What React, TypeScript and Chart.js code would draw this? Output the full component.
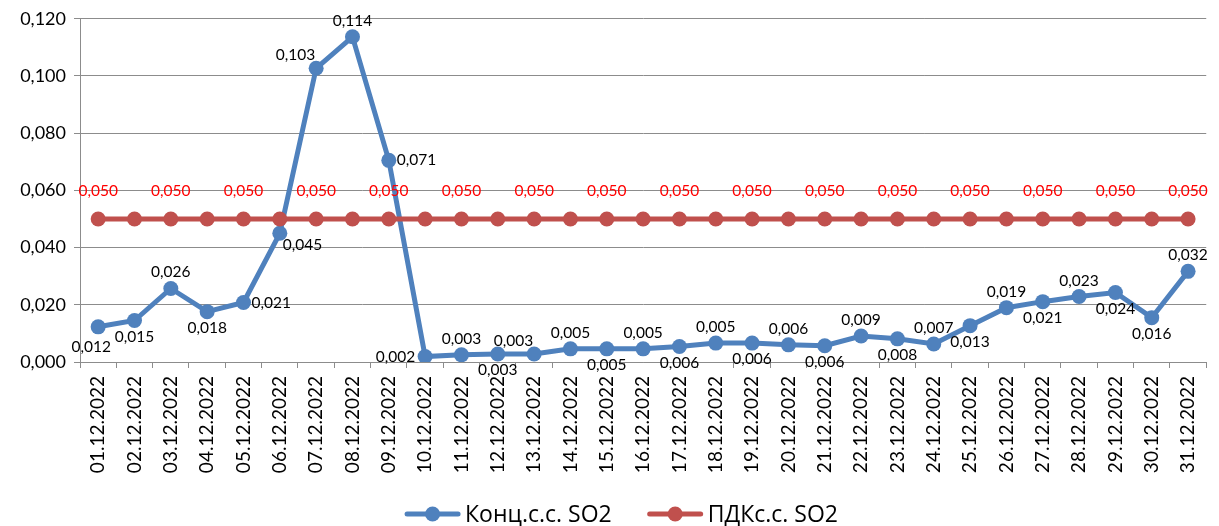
import React, { useEffect, useRef } from 'react';
import { Chart, registerables } from 'chart.js';

Chart.register(...registerables);

const categories = [
  '01.12.2022', '02.12.2022', '03.12.2022', '04.12.2022', '05.12.2022', '06.12.2022',
  '07.12.2022', '08.12.2022', '09.12.2022', '10.12.2022', '11.12.2022', '12.12.2022',
  '13.12.2022', '14.12.2022', '15.12.2022', '16.12.2022', '17.12.2022', '18.12.2022',
  '19.12.2022', '20.12.2022', '21.12.2022', '22.12.2022', '23.12.2022', '24.12.2022',
  '25.12.2022', '26.12.2022', '27.12.2022', '28.12.2022', '29.12.2022', '30.12.2022',
  '31.12.2022',
];

const seriesNames = ['Конц.с.с. SO2', 'ПДКс.с. SO2'];

const concValues = [
  0.0123, 0.0145, 0.0257, 0.0176, 0.0208, 0.045, 0.1027, 0.1137, 0.0705, 0.0019,
  0.0025, 0.0028, 0.0028, 0.0046, 0.0046, 0.0046, 0.0054, 0.0066, 0.0066, 0.006,
  0.0057, 0.0091, 0.0081, 0.0063, 0.0127, 0.019, 0.0211, 0.0229, 0.0243, 0.0155,
  0.0317,
];

const concLabels = [
  '0,012', '0,015', '0,026', '0,018', '0,021', '0,045', '0,103', '0,114', '0,071', '0,002',
  '0,003', '0,003', '0,003', '0,005', '0,005', '0,005', '0,006', '0,005', '0,006', '0,006',
  '0,006', '0,009', '0,008', '0,007', '0,013', '0,019', '0,021', '0,023', '0,024', '0,016',
  '0,032',
];

const pdkValues = [
  0.05, 0.05, 0.05, 0.05, 0.05, 0.05, 0.05, 0.05, 0.05, 0.05,
  0.05, 0.05, 0.05, 0.05, 0.05, 0.05, 0.05, 0.05, 0.05, 0.05,
  0.05, 0.05, 0.05, 0.05, 0.05, 0.05, 0.05, 0.05, 0.05, 0.05,
  0.05,
];

const Y_MIN = 0;
const Y_MAX = 0.12;
const Y_STEP = 0.02;

// label placement for the concentration series
const placements = [
  'bl', 'b', 'a', 'b', 'r', 'br', 'al', 'a', 'r', 'l',
  'a', 'b', 'al', 'a', 'b', 'a', 'b', 'a', 'b', 'a',
  'b', 'a', 'b', 'a', 'b', 'a', 'b', 'a', 'b', 'b',
  'a',
];

const BLUE = '#4F81BD';
const RED = '#C0504D';
const GRID = '#8c8c8c';
const NUM_FONT = 'Lato, "Open Sans", sans-serif';
const LEGEND_FONT = '"Open Sans", "Noto Sans", sans-serif';

const fmt = (v: number) => v.toFixed(3).replace('.', ',');

const labelsPlugin = {
  id: 'pointLabels',
  afterDatasetsDraw(chart: any) {
    const ctx = chart.ctx;
    ctx.save();
    ctx.font = `15.5px ${NUM_FONT}`;
    ctx.textBaseline = 'middle';
    const m0 = chart.getDatasetMeta(0);
    m0.data.forEach((pt: any, i: number) => {
      const x = pt.x;
      const y = pt.y;
      let tx = x;
      let ty = y;
      let align: CanvasTextAlign = 'center';
      switch (placements[i]) {
        case 'a': ty = y - 16; break;
        case 'b': ty = y + 16; break;
        case 'bl': tx = x - 7; ty = y + 20; break;
        case 'r': tx = x + 8; align = 'left'; break;
        case 'br': tx = x + 3; ty = y + 12; align = 'left'; break;
        case 'l': tx = x - 10; align = 'right'; break;
        case 'al': tx = x - 1; ty = y - 13; align = 'right'; break;
      }
      ctx.textAlign = align;
      ctx.fillStyle = '#000';
      ctx.fillText(concLabels[i], tx, ty);
    });
    const m1 = chart.getDatasetMeta(1);
    ctx.fillStyle = '#FF0000';
    ctx.textAlign = 'center';
    m1.data.forEach((pt: any, i: number) => {
      if (i % 2 !== 0) return;
      ctx.fillText(fmt(pdkValues[i]), pt.x, pt.y - 28);
    });
    ctx.restore();
  },
};

const legendPlugin = {
  id: 'lineLegend',
  afterDraw(chart: any) {
    const ctx = chart.ctx;
    ctx.save();
    ctx.font = `23px ${LEGEND_FONT}`;
    ctx.textBaseline = 'middle';
    ctx.textAlign = 'left';
    const items = chart.data.datasets.map((ds: any) => ({ text: ds.label, color: ds.borderColor }));
    const lineW = 55;
    const gapText = 5;
    const gapItem = 36;
    const widths = items.map((it: any) => lineW + gapText + ctx.measureText(it.text).width);
    const total = widths.reduce((a: number, b: number) => a + b, 0) + gapItem * (items.length - 1);
    let x = chart.width / 2 + 12 - total / 2;
    const y = chart.height - 12;
    items.forEach((it: any, i: number) => {
      ctx.strokeStyle = it.color;
      ctx.lineWidth = 5;
      ctx.lineCap = 'round';
      ctx.beginPath();
      ctx.moveTo(x + 2, y);
      ctx.lineTo(x + lineW - 2, y);
      ctx.stroke();
      ctx.fillStyle = it.color;
      ctx.beginPath();
      ctx.arc(x + lineW / 2, y, 7.5, 0, Math.PI * 2);
      ctx.fill();
      ctx.fillStyle = '#000';
      ctx.fillText(it.text, x + lineW + gapText, y + 1);
      x += widths[i] + gapItem;
    });
    ctx.restore();
  },
};

export default function App() {
  const canvasRef = useRef<HTMLCanvasElement | null>(null);

  useEffect(() => {
    if (!canvasRef.current) return;
    const chart = new Chart(canvasRef.current, {
      type: 'line',
      data: {
        labels: categories,
        datasets: [
          {
            label: seriesNames[0],
            data: concValues,
            borderColor: BLUE,
            backgroundColor: BLUE,
            borderWidth: 5,
            pointRadius: 7.5,
            pointBorderWidth: 0,
            pointBackgroundColor: BLUE,
            tension: 0,
            order: 1,
          },
          {
            label: seriesNames[1],
            data: pdkValues,
            borderColor: RED,
            backgroundColor: RED,
            borderWidth: 5,
            pointRadius: 7.5,
            pointBorderWidth: 0,
            pointBackgroundColor: RED,
            tension: 0,
            order: 0,
          },
        ],
      },
      options: {
        animation: false,
        responsive: true,
        maintainAspectRatio: false,
        layout: { padding: { top: 14, right: 6, bottom: 50, left: 0 } },
        plugins: {
          legend: { display: false },
          tooltip: { enabled: false },
        },
        scales: {
          x: {
            offset: true,
            grid: {
              display: true,
              drawOnChartArea: false,
              drawTicks: true,
              tickLength: 6,
              color: GRID,
              offset: true,
            },
            border: { display: true, color: GRID },
            ticks: {
              autoSkip: false,
              minRotation: 90,
              maxRotation: 90,
              padding: 8,
              color: '#000',
              font: { family: NUM_FONT, size: 19 },
            },
            afterFit: (s: any) => { s.height = 114; },
          },
          y: {
            min: Y_MIN,
            max: Y_MAX,
            ticks: {
              stepSize: Y_STEP,
              padding: 8,
              color: '#000',
              font: { family: NUM_FONT, size: 18 },
              callback: (v: any) => fmt(Number(v)),
            },
            grid: { color: GRID, tickLength: 6 },
            border: { display: true, color: GRID },
            afterFit: (s: any) => { s.width = 80; },
          },
        },
      },
      plugins: [labelsPlugin, legendPlugin],
    });
    return () => chart.destroy();
  }, []);

  return (
    <div style={{ position: 'absolute', left: 0, top: 0, width: 1219, height: 526, background: '#fff' }}>
      <canvas ref={canvasRef} />
    </div>
  );
}
